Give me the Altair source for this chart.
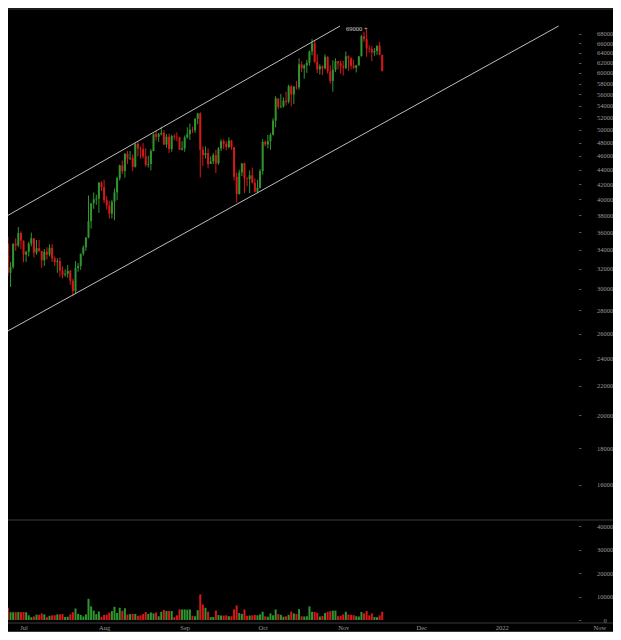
import altair as alt
import pandas as pd

# ---------------- data (BTC/USD daily) ----------------
dates = pd.date_range("2021-06-24", "2021-11-16", freq="D").strftime("%Y-%m-%d").tolist()

opens = (
    [32500, 34700, 31600, 32200, 34700, 34500, 35900]
    + [35040, 33500, 33800, 34700, 35300, 33700, 34200, 33900, 32900, 33800, 33500, 34250, 33100, 32700, 32800, 31800,
       31400, 31500, 31800, 30800, 29800, 32100, 32300, 33600, 34300, 35400, 37300, 39500, 40000, 40100, 42200]
    + [41600, 39900, 39200, 38200, 39700, 40900, 42800, 44600, 43800, 46300, 45600, 45700, 44400, 47800, 47100, 47000,
       45900, 44700, 44800, 46700, 49300, 48900, 49300, 49500, 47700, 48900, 47000, 49000, 48900, 48800, 46900]
    + [47100, 48800, 49300, 50000, 49900, 51800, 52700, 46900, 46100, 46400, 44800, 45200, 46100, 44900, 47100, 48200,
       47800, 47300, 48300, 47300, 43000, 40700, 43600, 44900, 42800, 42700, 43200, 42200, 41000, 41500]
    + [43800, 48100, 47700, 48200, 49200, 51500, 55300, 53800, 53900, 54900, 54700, 57500, 56000, 57400, 57300, 61700,
       60900, 61500, 62000, 64300, 66000, 62200, 60700, 61300, 60900, 63200, 60300, 58500, 60600, 62300, 61900]
    + [61300, 61000, 63300, 62900, 61400, 61000, 61500, 63300, 67500, 66900, 64900, 64800, 64100, 64400, 65500, 63600]
)
highs = (
    [35000, 35500, 32700, 34700, 35300, 36600, 36100]
    + [35040, 33900, 34900, 35950, 35300, 35100, 35100, 33900, 34100, 34300, 34600, 34650, 33300, 33100, 33200, 32250,
       31950, 32400, 31900, 31000, 32800, 32600, 33600, 34500, 35400, 40500, 39500, 40900, 40600, 42300, 42400]
    + [42600, 40400, 39800, 39900, 41400, 43000, 44700, 45300, 46400, 46700, 46700, 46200, 47900, 48100, 47400, 47900,
       47100, 46000, 47000, 49400, 49800, 49500, 50500, 49900, 49300, 49400, 49200, 49300, 49600, 48900, 48200]
    + [49100, 50400, 51000, 50500, 51900, 52800, 52900, 47400, 47400, 47100, 45900, 46400, 46900, 47300, 48500, 48500,
       48200, 48800, 48400, 47300, 43600, 44000, 44900, 45000, 42900, 43900, 44300, 42800, 42600, 44100]
    + [48500, 48300, 49200, 49500, 51900, 55700, 55300, 56100, 55500, 56500, 57800, 57700, 57600, 58500, 62900, 62300,
       61700, 62600, 64500, 66900, 66600, 63700, 61700, 61500, 63700, 63300, 61500, 62500, 62900, 62300, 62400]
    + [62400, 64300, 63500, 63100, 62600, 61600, 63300, 67800, 68500, 69000, 65600, 65400, 65000, 65500, 66300, 63600]
)
lows = (
    [32300, 31300, 30200, 32000, 33900, 34300, 34100]
    + [32700, 32700, 33300, 34400, 33200, 33500, 33800, 32100, 32300, 33000, 33300, 32700, 32300, 31600, 31200, 31050,
       31200, 31100, 30400, 29300, 29500, 31700, 31900, 33400, 33900, 35300, 36400, 38800, 39300, 38300, 41100]
    + [39500, 38700, 37600, 37600, 37400, 39900, 42500, 43400, 42900, 44800, 45400, 43800, 44300, 45900, 45600, 45600,
       44400, 44300, 43900, 46700, 48300, 48100, 49100, 47600, 47200, 46400, 46600, 48400, 48200, 46900, 46800]
    + [46600, 48600, 48400, 49500, 49500, 50900, 42900, 44500, 45600, 44200, 44800, 44800, 43500, 44700, 46700, 47000,
       46800, 47100, 46900, 42500, 39600, 40600, 43100, 40800, 41700, 40800, 42100, 40900, 40800, 41400]
    + [43300, 47400, 47100, 46900, 49100, 50400, 53400, 53600, 53700, 54100, 54400, 53900, 54300, 56900, 56900, 60200,
       58900, 60000, 61400, 63500, 62000, 60000, 59700, 59600, 60700, 59900, 58000, 56500, 60200, 60700, 59900]
    + [59500, 60700, 60400, 60700, 60800, 60100, 61400, 63300, 66300, 63200, 64100, 62300, 63400, 63600, 63500, 60300]
)
closes = (
    [34700, 31600, 32200, 34700, 34500, 35900, 35040]
    + [33500, 33800, 34700, 35300, 33700, 34200, 33900, 32900, 33800, 33500, 34250, 33100, 32700, 32800, 31800, 31400,
       31500, 31800, 30800, 29800, 32100, 32300, 33600, 34300, 35400, 37300, 39500, 40000, 40100, 42200, 41600]
    + [39900, 39200, 38200, 39700, 40900, 42800, 44600, 43800, 46300, 45600, 45700, 44400, 47800, 47100, 47000, 45900,
       44700, 44800, 46700, 49300, 48900, 49300, 49500, 47700, 48900, 47000, 49000, 48900, 48800, 46900, 47100]
    + [48800, 49300, 50000, 49900, 51800, 52700, 46900, 46100, 46400, 44800, 45200, 46100, 44900, 47100, 48200, 47800,
       47300, 48300, 47300, 43000, 40700, 43600, 44900, 42800, 42700, 43200, 42200, 41000, 41500, 43800]
    + [48100, 47700, 48200, 49200, 51500, 55300, 53800, 53900, 54900, 54700, 57500, 56000, 57400, 57300, 61700, 60900,
       61500, 62000, 64300, 66000, 62200, 60700, 61300, 60900, 63200, 60300, 58500, 60600, 62300, 61900, 61300]
    + [61000, 63300, 62900, 61400, 61000, 61500, 63300, 67500, 66900, 64900, 64800, 64100, 64400, 65500, 63600, 60400]
)
volumes = (
    [4500, 5200, 3300, 3300, 3300, 3400, 3300]
    + [3400, 3300, 2000, 1200, 1500, 2300, 2200, 2800, 2400, 1200, 1800, 2000, 2000, 2400, 2400, 2600,
       1300, 1400, 2400, 3300, 4900, 2600, 2200, 1500, 2400, 9000, 5800, 4000, 2500, 3600, 1400]
    + [2200, 2300, 3100, 3800, 5600, 3000, 5200, 3900, 5000, 2300, 2500, 2600, 2600, 1800, 2000, 2600,
       3400, 2600, 3200, 2800, 3200, 1600, 3500, 4300, 3800, 3800, 3800, 1200, 2000, 4500, 4500]
    + [4500, 4400, 4500, 1800, 1600, 4200, 10900, 6600, 5200, 3500, 1200, 1300, 4000, 2100, 1900, 1900,
       2000, 1600, 1600, 4500, 6200, 3000, 2600, 4500, 1800, 1900, 2000, 2100, 2000, 2400]
    + [3500, 1600, 1400, 2800, 2000, 4500, 2500, 2200, 1400, 1600, 2200, 3600, 2800, 2500, 4600, 1600,
       1500, 1600, 5800, 3500, 3400, 3000, 1500, 1700, 3000, 3500, 3800, 4000, 4000, 1600, 1800]
    + [2400, 3500, 2300, 2200, 2100, 1600, 1500, 3400, 2800, 3800, 2000, 2800, 1300, 1200, 2000, 3500]
)

# channel lines (two anchor points each)
channel_names = ["upper", "upper", "lower", "lower"]
channel_dates = ["2021-06-23T22:05:00Z", "2021-10-30T19:00:00Z", "2021-06-23T22:05:00Z", "2022-01-22T21:00:00Z"]
channel_prices = [37800, 69770, 26090, 69770]

# peak annotation
peak_dates = ["2021-11-10"]
peak_prices = [69000]
peak_labels = ["69000 +"]

price_ticks = list(range(16000, 68001, 2000))
volume_ticks = [0, 10000, 20000, 30000, 40000]
x_tick_dates = ["2021-07-01", "2021-08-01", "2021-09-01", "2021-10-01", "2021-11-01",
                "2021-12-01", "2022-01-01", "2022-02-07T12:00:00"]

# ---------------- styling ----------------
W, H = 605, 624
GREEN = "#2f962f"
RED = "#d81818"
LABEL = "#9a9a9a"
TICK = "#555555"
LINE = "#3a3a3a"
FONT = "Liberation Serif"


def ms(s):
    return int(pd.Timestamp(s, tz="UTC").value // 10**6)


DAY = 86400000
JUL1 = ms("2021-07-01")
x_domain = [JUL1 - 4.048 * DAY, JUL1 + 224.86 * DAY]

df = pd.DataFrame({"date": dates, "open": opens, "high": highs, "low": lows,
                   "close": closes, "volume": volumes})
df["dir"] = ["up" if c >= o else "down" for o, c in zip(opens, closes)]

chan_df = pd.DataFrame({"line": channel_names, "date": channel_dates, "price": channel_prices})
peak_df = pd.DataFrame({"date": peak_dates, "price": peak_prices, "label": peak_labels})

x_scale = alt.Scale(type="utc", domain=x_domain)
x_axis = alt.Axis(values=[ms(d) for d in x_tick_dates], orient="bottom", offset=-8, tickSize=0,
                  labelPadding=3.5, labelBaseline="middle", labelFont=FONT, labelFontSize=6.5,
                  labelColor=LABEL, labelFlush=False, labelOverlap=False, domain=False, grid=False,
                  title=None,
                  labelExpr="utcmonth(datum.value) == 1 ? 'Now' : (utcmonth(datum.value) == 0 ? '2022' : utcFormat(datum.value, '%b'))")
X = alt.X("date:T", scale=x_scale, axis=x_axis)

price_scale = alt.Scale(type="log", domain=[14294, 73680], range=[512, 1], zero=False, nice=False)
price_axis = alt.Axis(values=price_ticks, orient="right", offset=-34.5, tickSize=2.5, tickColor=TICK,
                      tickWidth=1, labelPadding=23.5, labelAlign="center", labelBaseline="middle",
                      labelFont=FONT, labelFontSize=6.5, labelColor=LABEL, format="d",
                      domain=False, grid=False, title=None, labelOverlap=False, labelFlush=False)
vol_scale = alt.Scale(domain=[0, 40000], range=[612, 518], nice=False)
vol_axis = alt.Axis(values=volume_ticks, orient="right", offset=-34.5, tickSize=2.5, tickColor=TICK,
                    tickWidth=1, labelPadding=23.5, labelAlign="center", labelBaseline="middle",
                    labelFont=FONT, labelFontSize=6.5, labelColor=LABEL, format="d",
                    domain=False, grid=False, title=None, labelOverlap=False, labelFlush=False)

color = alt.Color("dir:N", scale=alt.Scale(domain=["up", "down"], range=[GREEN, RED]), legend=None)

base = alt.Chart(df)
wicks = base.mark_rule(strokeWidth=1).encode(
    x=X, y=alt.Y("low:Q", scale=price_scale, axis=price_axis), y2="high:Q", color=color)
bodies = base.mark_bar(size=2).encode(
    x=X, y=alt.Y("open:Q", scale=price_scale, axis=price_axis), y2="close:Q", color=color)
channel = alt.Chart(chan_df).mark_line(color="#bdbdbd", strokeWidth=1, clip=True).encode(
    x=X, y=alt.Y("price:Q", scale=price_scale, axis=price_axis), detail="line:N")
peak = alt.Chart(peak_df).mark_text(align="right", baseline="middle", dx=1, font=FONT,
                                    fontSize=6.5, color="#d0d0d0").encode(
    x=X, y=alt.Y("price:Q", scale=price_scale, axis=price_axis), text="label:N")
price_layer = alt.layer(wicks, bodies, channel, peak)

volume_layer = base.mark_bar(size=2).encode(
    x=X, y=alt.Y("volume:Q", scale=vol_scale, axis=vol_axis), color=color)


def hline(ypix):
    return alt.Chart(pd.DataFrame({"k": [0]})).mark_rule(color=LINE, strokeWidth=1).encode(
        x=alt.value(0), x2=alt.value(W), y=alt.value(ypix))


chart = alt.layer(
    hline(1), hline(512), hline(615), hline(623.5),
    price_layer, volume_layer,
).resolve_scale(y="independent").properties(
    width=W, height=H, padding=0, background="#000000",
    autosize=alt.AutoSizeParams(type="none"),
).configure_view(stroke=None)

chart.save("out.html", embed_options={"renderer": "svg", "actions": False})
